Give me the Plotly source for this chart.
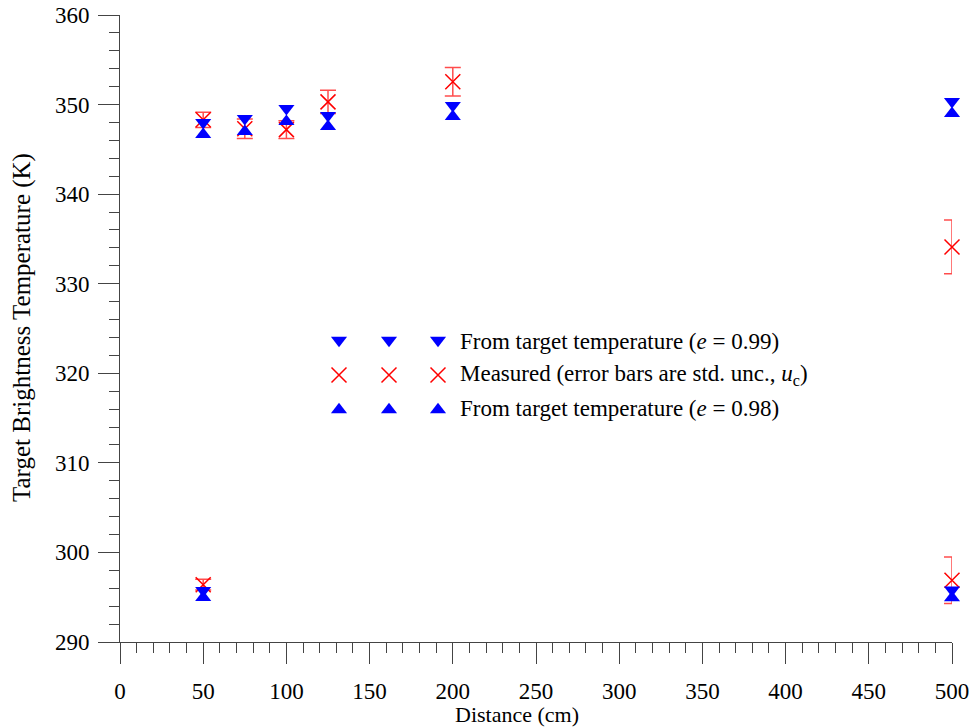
import plotly.graph_objects as go

# ---------------- data ----------------
distance = [50, 75, 100, 125, 200, 500, 50, 500]
t_e099 = [348.0, 348.44, 349.56, 348.78, 349.9, 350.34, 295.75, 295.8]
t_e098 = [346.66, 346.99, 348.11, 347.55, 348.67, 349.0, 294.97, 294.95]
measured = [348.3, 347.3, 347.2, 350.3, 352.55, 334.1, 296.4, 296.9]
meas_unc = [0.85, 1.1, 1.0, 1.3, 1.6, 3.0, 0.6, 2.6]

legend_labels = [
    "From target temperature (<i>e</i> = 0.99)",
    "Measured (error bars are std. unc., <i>u</i><sub>c</sub>)",
    "From target temperature (<i>e</i> = 0.98)",
]

FONT = "Liberation Serif, Times New Roman, serif"
RED = "#ff0000"
BLUE = "#0000ff"
AX = "#444444"

# plot area in pixels
W, H = 973, 727
L, R, T, B = 120, 21, 15, 85
PW, PH = W - L - R, H - T - B

def px_x(p):
    return (p - L) / PW

def px_y(p):
    return (H - B - p) / PH

fig = go.Figure()

fig.add_trace(go.Scatter(
    x=distance, y=measured, mode="markers",
    marker=dict(symbol="x-thin", size=15, line=dict(color=RED, width=1.5), color=RED),
    error_y=dict(type="data", array=meas_unc, visible=True,
                 color="rgba(255,0,0,0.7)", thickness=1.5, width=8),
    cliponaxis=False, name=legend_labels[1],
))
fig.add_trace(go.Scatter(
    x=distance, y=t_e098, mode="markers",
    marker=dict(symbol="triangle-up", size=14, color=BLUE, line=dict(width=0)),
    cliponaxis=False, name=legend_labels[2],
))
fig.add_trace(go.Scatter(
    x=distance, y=t_e099, mode="markers",
    marker=dict(symbol="triangle-down", size=14, color=BLUE, line=dict(width=0)),
    cliponaxis=False, name=legend_labels[0],
))

# ---------------- custom legend (3 symbols per row) ----------------
leg_sym_px = [339, 389, 438]
leg_row_px = [342, 375, 408]
leg_text_px = 458
leg_x = [px_x(p) for p in leg_sym_px]

fig.add_trace(go.Scatter(
    x=leg_x, y=[px_y(leg_row_px[0] - 1.75)] * 3, xaxis="x2", yaxis="y2",
    mode="markers", marker=dict(symbol="triangle-down", size=14, color=BLUE, line=dict(width=0)),
    hoverinfo="skip", cliponaxis=False,
))
fig.add_trace(go.Scatter(
    x=leg_x, y=[px_y(leg_row_px[1])] * 3, xaxis="x2", yaxis="y2",
    mode="markers", marker=dict(symbol="x-thin", size=15, line=dict(color=RED, width=1.5)),
    hoverinfo="skip", cliponaxis=False,
))
fig.add_trace(go.Scatter(
    x=leg_x, y=[px_y(leg_row_px[2] + 1.75)] * 3, xaxis="x2", yaxis="y2",
    mode="markers", marker=dict(symbol="triangle-up", size=14, color=BLUE, line=dict(width=0)),
    hoverinfo="skip", cliponaxis=False,
))

annotations = []
for lab, rp in zip(legend_labels, leg_row_px):
    annotations.append(dict(
        text=lab, x=px_x(leg_text_px), y=px_y(rp), xref="paper", yref="paper",
        xanchor="left", yanchor="middle", showarrow=False,
        font=dict(family=FONT, size=23, color="black"),
    ))

annotations.append(dict(
    text="Distance (cm)", x=px_x(517), y=px_y(714), xref="paper", yref="paper",
    xanchor="center", yanchor="middle", showarrow=False,
    font=dict(family=FONT, size=22, color="black"),
))
annotations.append(dict(
    text="Target Brightness Temperature (K)", x=px_x(22), y=px_y(328), xref="paper", yref="paper",
    xanchor="center", yanchor="middle", showarrow=False, textangle=-90,
    font=dict(family=FONT, size=25, color="black"),
))

fig.update_layout(
    width=W, height=H,
    margin=dict(l=L, r=R, t=T, b=B, pad=0, autoexpand=False),
    plot_bgcolor="white", paper_bgcolor="white",
    showlegend=False,
    font=dict(family=FONT, size=23, color="black"),
    annotations=annotations,
    xaxis=dict(
        range=[0, 500], tick0=0, dtick=50, ticks="outside", ticklen=21, tickwidth=1,
        tickcolor=AX, showline=True, linecolor=AX, linewidth=1, showgrid=False,
        zeroline=False, ticklabelstandoff=7, automargin=False,
        minor=dict(dtick=10, tick0=0, ticks="outside", ticklen=10, tickwidth=1, tickcolor=AX),
    ),
    yaxis=dict(
        range=[290, 360], tick0=290, dtick=10, ticks="outside", ticklen=21, tickwidth=1,
        tickcolor=AX, showline=True, linecolor=AX, linewidth=1, showgrid=False,
        zeroline=False, ticklabelstandoff=4, automargin=False,
        minor=dict(dtick=2, tick0=290, ticks="outside", ticklen=10, tickwidth=1, tickcolor=AX),
    ),
    xaxis2=dict(overlaying="x", range=[0, 1], visible=False, anchor="y2"),
    yaxis2=dict(overlaying="y", range=[0, 1], visible=False, anchor="x2"),
)

fig.write_html("out.html", config={"displayModeBar": False},
               post_script="document.body.style.margin='0';")
